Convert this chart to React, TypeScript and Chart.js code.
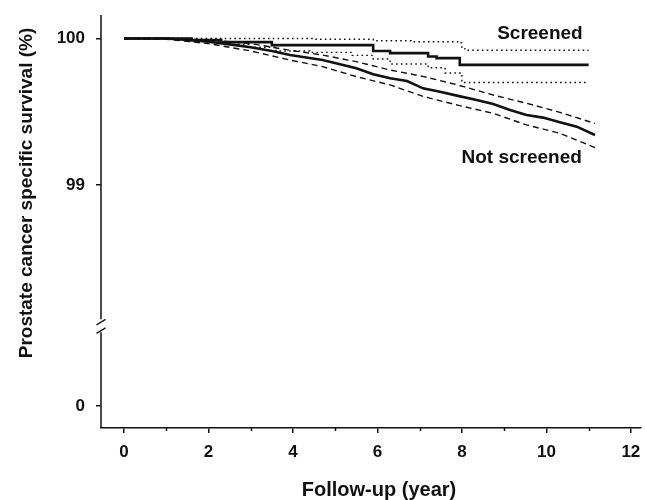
import React, { useEffect, useRef } from "react";
import { Chart, registerables } from "chart.js";

Chart.register(...registerables);

// ---- data ----
const X_TICKS = [0, 1, 2, 3, 4, 5, 6, 7, 8, 9, 10, 11, 12];
const Y_TICK_VALUES = [0, 99, 100];

const notScreenedYears = [0, 1, 1.5, 2, 2.5, 3, 3.5, 3.93, 4.7, 5.5, 5.9, 6.3, 6.7, 7.08, 7.48, 7.88, 8.35, 8.74, 9.14, 9.53, 9.92, 10.32, 10.72, 11.15];
const notScreened = [100, 100, 99.99, 99.978, 99.96, 99.94, 99.915, 99.887, 99.853, 99.797, 99.756, 99.728, 99.71, 99.66, 99.637, 99.61, 99.58, 99.553, 99.512, 99.478, 99.46, 99.428, 99.398, 99.341];

const nsUpperYears = [0, 1, 1.5, 2, 3, 3.93, 4.7, 5.5, 6.3, 7.1, 7.9, 8.74, 9.53, 10.32, 11.15];
const nsUpper = [100, 100, 99.995, 99.99, 99.965, 99.92, 99.887, 99.842, 99.785, 99.74, 99.683, 99.614, 99.558, 99.496, 99.42];

const nsLowerYears = [0, 1, 1.5, 2, 3, 3.93, 4.7, 5.5, 6.3, 7.1, 7.9, 8.74, 9.53, 10.32, 11.15];
const nsLower = [100, 99.995, 99.98, 99.965, 99.915, 99.853, 99.808, 99.74, 99.683, 99.603, 99.545, 99.489, 99.41, 99.353, 99.255];

const screenedYears = [0, 1.6, 2.3, 3.5, 5.9, 6.3, 7.2, 7.4, 7.95, 11];
const screened = [100, 99.99, 99.975, 99.955, 99.915, 99.9, 99.877, 99.866, 99.82, 99.82];

const scUpperYears = [0, 4.5, 5.9, 6.8, 7.9, 8.0, 8.07, 11];
const scUpper = [100, 99.995, 99.985, 99.978, 99.97, 99.94, 99.92, 99.92];

const scLowerYears = [0, 1.5, 2.3, 3.0, 3.6, 4.4, 5.4, 5.9, 6.3, 7.2, 7.6, 8.0, 11];
const scLower = [100, 99.985, 99.96, 99.94, 99.915, 99.905, 99.885, 99.86, 99.826, 99.8, 99.765, 99.7, 99.7];

// broken y axis: 0 is drawn in a compressed lower segment
const ZERO_DISPLAY = 97.4915;
const BREAK_DISPLAY = 98.035;
const toDisplay = (v: number) => (v >= 98 ? v : ZERO_DISPLAY + v);

const pts = (xs: number[], ys: number[]) => xs.map((x, i) => ({ x, y: ys[i] }));

const FONT = "'Liberation Sans', Arial, Helvetica, sans-serif";
const INK = "#111";

const overlay = {
  id: "overlay",
  afterDraw(chart: any) {
    const { ctx, chartArea, scales } = chart;
    const x = scales.x;
    const y = scales.y;
    const ax = chartArea.left;
    const bp = y.getPixelForValue(BREAK_DISPLAY);
    ctx.save();
    ctx.strokeStyle = INK;
    ctx.lineWidth = 1.5;
    ctx.setLineDash([]);
    // y axis with break
    ctx.beginPath();
    ctx.moveTo(ax, chartArea.top);
    ctx.lineTo(ax, bp - 7);
    ctx.moveTo(ax, bp + 6);
    ctx.lineTo(ax, chartArea.bottom);
    ctx.stroke();
    ctx.lineWidth = 1.2;
    ctx.beginPath();
    ctx.moveTo(ax - 4.5, bp - 1.5);
    ctx.lineTo(ax + 4.5, bp - 7);
    ctx.moveTo(ax - 4.5, bp + 7);
    ctx.lineTo(ax + 4.5, bp + 1.5);
    ctx.stroke();

    // minor x ticks (odd years), shorter than major ticks
    ctx.lineWidth = 1.5;
    ctx.beginPath();
    X_TICKS.filter((v) => v % 2 !== 0).forEach((v) => {
      const px = Math.round(x.getPixelForValue(v)) + 0.5;
      ctx.moveTo(px, chartArea.bottom);
      ctx.lineTo(px, chartArea.bottom + 3);
    });
    ctx.stroke();

    ctx.fillStyle = INK;
    // y title
    ctx.font = `bold 19px ${FONT}`;
    ctx.textAlign = "center";
    ctx.textBaseline = "middle";
    ctx.save();
    ctx.translate(27, 193);
    ctx.rotate(-Math.PI / 2);
    ctx.fillText("Prostate cancer specific survival (%)", 0, 0);
    ctx.restore();
    // x title
    ctx.font = `bold 20px ${FONT}`;
    ctx.fillText("Follow-up (year)", 379, 490);

    // series labels
    ctx.font = `bold 19px ${FONT}`;
    ctx.textAlign = "right";
    ctx.textBaseline = "alphabetic";
    ctx.fillText("Screened", x.getPixelForValue(10.86), y.getPixelForValue(99.997));
    ctx.fillText("Not screened", x.getPixelForValue(10.84), y.getPixelForValue(99.15));
    ctx.restore();
  },
};

export default function App() {
  const ref = useRef<HTMLCanvasElement>(null);
  useEffect(() => {
    document.body.style.margin = "0";
    const canvas = ref.current;
    if (!canvas) return;
    const line = (data: any[], width: number, dash: number[], stepped: boolean, order: number) => ({
      data,
      borderColor: INK,
      borderWidth: width,
      borderDash: dash,
      pointRadius: 0,
      fill: false,
      tension: 0,
      stepped,
      order,
    });
    const chart = new Chart(canvas, {
      type: "line",
      data: {
        datasets: [
          line(pts(nsUpperYears, nsUpper), 1.4, [6, 4], false, 3),
          line(pts(nsLowerYears, nsLower), 1.4, [6, 4], false, 3),
          line(pts(scUpperYears, scUpper), 1.4, [1.6, 3.2], true, 3),
          line(pts(scLowerYears, scLower), 1.4, [1.6, 3.2], true, 3),
          line(pts(notScreenedYears, notScreened), 2.6, [], false, 1),
          line(pts(screenedYears, screened), 2.6, [], true, 1),
        ] as any,
      },
      options: {
        responsive: false,
        animation: false,
        events: [],
        layout: { padding: { top: 15, right: 4, left: 0, bottom: 0 } },
        plugins: { legend: { display: false }, tooltip: { enabled: false }, title: { display: false } },
        scales: {
          x: {
            type: "linear",
            min: -0.544,
            max: 12.24,
            afterFit: (s: any) => {
              s.height = 72;
              s.paddingLeft = 0;
              s.paddingRight = 0;
            },
            afterBuildTicks: (s: any) => {
              s.ticks = X_TICKS.map((v) => ({ value: v }));
            },
            ticks: {
              autoSkip: false,
              maxRotation: 0,
              padding: 9,
              color: INK,
              font: { family: FONT, size: 17, weight: "bold" },
              callback: (v: any) => (Number(v) % 2 === 0 ? String(v) : ""),
            },
            grid: {
              display: true,
              drawOnChartArea: false,
              drawTicks: true,
              tickLength: 5,
              color: (c: any) => (c.tick && c.tick.value % 2 !== 0 ? "rgba(0,0,0,0)" : INK),
              lineWidth: 1.5,
            },
            border: { display: true, color: INK, width: 1.5 },
          },
          y: {
            type: "linear",
            min: 97.3413,
            max: 100.1604,
            afterFit: (s: any) => {
              s.width = 101;
              s.paddingTop = 0;
              s.paddingBottom = 0;
            },
            afterBuildTicks: (s: any) => {
              s.ticks = Y_TICK_VALUES.map((v) => ({ value: toDisplay(v) }));
            },
            ticks: {
              autoSkip: false,
              padding: 11,
              color: INK,
              font: { family: FONT, size: 17, weight: "bold" },
              callback: (v: any) => {
                const i = Y_TICK_VALUES.findIndex((t) => Math.abs(toDisplay(t) - Number(v)) < 1e-6);
                return i >= 0 ? String(Y_TICK_VALUES[i]) : "";
              },
            },
            grid: { display: true, drawOnChartArea: false, drawTicks: true, tickLength: 5, color: INK, lineWidth: 1.5 },
            border: { display: false },
          },
        },
      } as any,
      plugins: [overlay],
    });
    return () => chart.destroy();
  }, []);
  return (
    <div style={{ width: 645, height: 500 }}>
      <canvas ref={ref} width={645} height={500} style={{ display: "block" }} />
    </div>
  );
}
